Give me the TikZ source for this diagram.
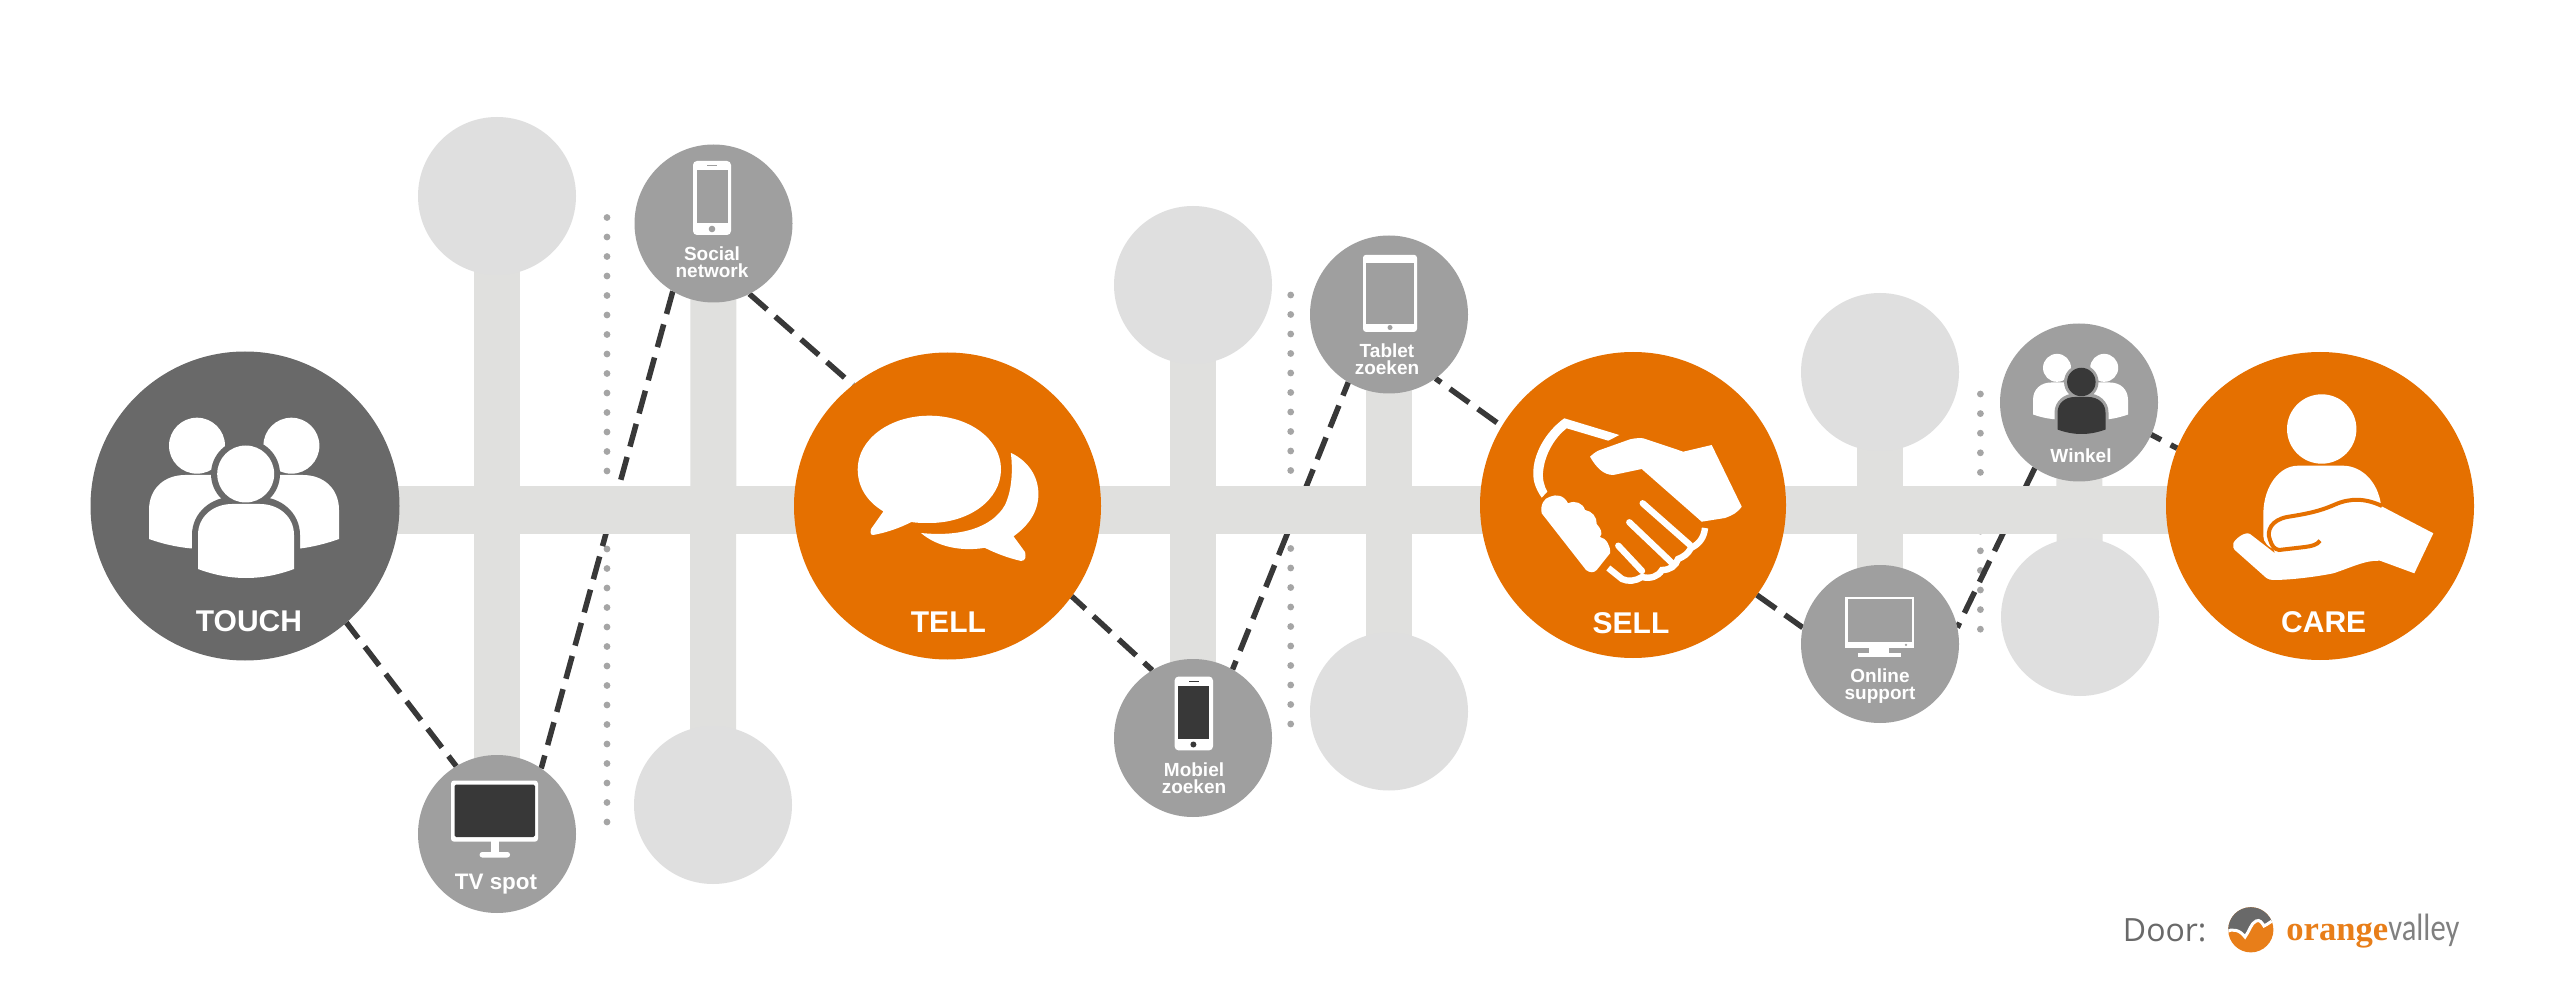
\documentclass[tikz,border=0pt]{standalone}
\usepackage{fontspec}
\setmainfont{Liberation Sans}
\newfontfamily\doorfont{Open Sans}
\newfontfamily\serifb{Liberation Serif}
\newfontfamily\valleyf{Carlito}
\definecolor{ov}{HTML}{E57000}
\definecolor{dk}{HTML}{696969}
\definecolor{md}{HTML}{9F9F9F}
\definecolor{lt}{HTML}{DFDFDF}
\definecolor{barc}{HTML}{E0E0DE}
\definecolor{dotc}{HTML}{A5A5A5}
\definecolor{ink}{HTML}{383838}
\pgfdeclarelayer{dotslayer}
\pgfdeclarelayer{lineslayer}
\pgfdeclarelayer{barslayer}
\pgfsetlayers{dotslayer,lineslayer,barslayer,main}
\tikzset{
  disc/.style={circle,inner sep=0pt,outer sep=0pt,draw=none},
  orangedisc/.style={disc,fill=ov,minimum size=154pt},
  greydisc/.style={disc,fill=md,minimum size=79pt},
  lightdisc/.style={disc,fill=lt,minimum size=79pt},
  hbar/.style={draw=barc,line width=24pt},
  vbar/.style={draw=barc,line width=23pt},
  dashline/.style={draw=ink,line width=2.75pt,dash pattern=on 11.8pt off 5.4pt},
  biglabel/.style={text=white,font=\fontsize{15}{17}\selectfont\bfseries,inner sep=0pt},
  smalllabel/.style={text=white,font=\fontsize{9.5}{8.3}\selectfont\bfseries,inner sep=0pt,align=center},
}
\newcommand{\peopleicon}[1]{%
  \fill[white] (149,539) -- (149,510) .. controls (149,488) and (165,475) .. (185,475) -- (225,475) -- (225,550) -- (192,548.5) .. controls (175,547) and (160,543) .. (149,539) -- cycle;
  \fill[white] (339,539) -- (339,510) .. controls (339,488) and (323,475) .. (303,475) -- (263,475) -- (263,550) -- (300,548.5) .. controls (313,547) and (328,543) .. (339,539) -- cycle;
  \fill[white] (197,445.7) circle[radius=28];
  \fill[white] (291.4,445.7) circle[radius=28];
  \fill[#1] (245.5,474) circle[radius=34.5];
  \fill[#1] (192,562) -- (192,535) .. controls (192,512) and (212,497) .. (232,497) -- (260,497) .. controls (280,497) and (300,512) .. (300,535) -- (300,562) -- cycle;
}
\begin{document}
\begin{tikzpicture}[x=.5pt,y=-.5pt]
\begin{pgfonlayer}{dotslayer}
\path[use as bounding box,fill=white] (0,0) rectangle (2560,989);
\foreach \k in {0,...,31} \fill[dotc] (607,217.5+19.5*\k) circle[radius=3.4];
\foreach \k in {0,...,22} \fill[dotc] (1290.7,295+19.5*\k) circle[radius=3.4];
\foreach \k in {0,...,12} \fill[dotc] (1980.4,394+19.6*\k) circle[radius=3.4];
\end{pgfonlayer}

% light stops
\node[lightdisc] (l1) at (497,196) {};
\node[lightdisc] (l2) at (713,805) {};
\node[lightdisc] (l3) at (1193,285) {};
\node[lightdisc] (l4) at (1389,711.5) {};
\node[lightdisc] (l5) at (1880,372) {};
\node[lightdisc] (l6) at (2080,617) {};
% grey channels
\node[greydisc] (tv) at (497,834) {};
\node[greydisc] (social) at (713.5,223.5) {};
\node[greydisc] (mobiel) at (1193,738) {};
\node[greydisc] (tablet) at (1389,314.5) {};
\node[greydisc] (online) at (1880,644) {};
\node[greydisc] (winkel) at (2079,402.5) {};
% stages
\node[disc,fill=dk,minimum size=154.5pt] (touch) at (245,506) {};
\node[orangedisc,minimum size=153.5pt] (tell) at (947.5,506) {};
\node[orangedisc,minimum size=153pt] (sell) at (1633,505) {};
\node[orangedisc] (care) at (2320,506) {};

\coordinate (barL) at (300,510);
\coordinate (barR) at (2300,510);
\begin{pgfonlayer}{barslayer}
\draw[hbar] (barL) -- (barR);
\draw[vbar] (l1.center) -- (tv.center);
\draw[vbar] (social.center) -- (l2.center);
\draw[vbar] (l3.center) -- (mobiel.center);
\draw[vbar] (tablet.center) -- (l4.center);
\draw[vbar] (l5.center) -- (online.center);
\draw[vbar] (winkel.center) -- (l6.center);
\end{pgfonlayer}
\begin{pgfonlayer}{lineslayer}
\draw[dashline,dash phase=2pt] (touch.-49) -- (tv.121);
\draw[dashline] (social.-121) -- (tv.56);
\draw[dashline] (social.-63) -- (tell.128.6);
\draw[dashline,dash phase=2.5pt] (tell.-36) -- (mobiel.121.7);
\draw[dashline,dash phase=4.6pt] (tablet.-121) -- (mobiel.60);
\draw[dashline,dash phase=8.3pt] (tablet.-54.6) -- (sell.149.6);
\draw[dashline] (sell.-36) -- (online.168.5);
\draw[dashline] (winkel.-124) -- (online.12);
\draw[dashline,dash phase=6.2pt] (winkel.-24.4) -- (care.158.5);
\end{pgfonlayer}

% TOUCH icon
\peopleicon{dk}
\fill[white] (245.7,474) circle[radius=28.5];
\fill[white] (198,569) -- (198,535) .. controls (198,516) and (214,504) .. (232,504) -- (260,504) .. controls (278,504) and (294,516) .. (294,535) -- (294,569) .. controls (262,581) and (230,581) .. (198,569) -- cycle;
% Winkel icon
\begin{scope}[shift={(1958.5,145)},scale=.5]
\peopleicon{md}
\fill[ink] (245.7,474) circle[radius=28.5];
\fill[ink] (198,569) -- (198,535) .. controls (198,516) and (214,504) .. (232,504) -- (260,504) .. controls (278,504) and (294,516) .. (294,535) -- (294,569) .. controls (262,581) and (230,581) .. (198,569) -- cycle;
\end{scope}

% TELL icon
\fill[white] (883.4,511.4) .. controls (866,501) and (857.7,486) .. (857.7,469.3) .. controls (857.7,439) and (890,415.7) .. (929.3,415.7) .. controls (969,415.7) and (1001,439) .. (1001,469.3) .. controls (1001,500) and (969,523) .. (929.3,523) .. controls (923,523) and (917,523) .. (911.3,522) .. controls (900,528) and (885,533) .. (873,535) .. controls (870,535) and (870,531) .. (871,529) -- cycle;
\fill[white] (1010.8,452.8) .. controls (1028,461) and (1038.4,476) .. (1038.4,494.2) .. controls (1038.4,512) and (1028,526) .. (1013.5,536.3) -- (1025,552) .. controls (1026,556) and (1026,561) .. (1021,561) .. controls (1008,558) and (995,553) .. (984.8,547.8) .. controls (960,552) and (936,546) .. (921,533) .. controls (960,537) and (992,528) .. (1005,505) .. controls (1012,490) and (1013,470) .. (1010.8,452.8) -- cycle;

% SELL icon
\fill[white] (1564.3,418.3) -- (1619.3,435) -- (1608.3,440.7) -- (1566.7,428.3) .. controls (1554,438) and (1545,455) .. (1543.3,470) .. controls (1542,478) and (1544,486) .. (1547.3,491.7) -- (1541.7,497.7) .. controls (1535,488) and (1533,480) .. (1533.3,473.3) .. controls (1533,455) and (1545,432) .. (1564.3,418.3) -- cycle;
\fill[white] (1541.7,513.3) .. controls (1540,505) and (1544,498) .. (1550,496.7) .. controls (1556,494) and (1564,495) .. (1568,503.3) .. controls (1575,500) and (1583,503) .. (1585,510) .. controls (1592,511) and (1597,517) .. (1596.7,524) .. controls (1601,529) and (1603,533) .. (1600,537) .. controls (1606,538) and (1611,546) .. (1610,553.3) -- (1596.7,570) .. controls (1594,573) and (1590,573) .. (1586,570) -- cycle;
\fill[white] (1590,456.7) .. controls (1594,453) and (1597,451) .. (1600,450) -- (1630,439.3) .. controls (1635,438) and (1640,438) .. (1643.3,438.3) -- (1683.3,451.7) -- (1711.7,445) -- (1741.7,506.7) .. controls (1737,513) and (1733,515) .. (1725,518) -- (1701.7,521.7) -- (1641.7,469) -- (1613.3,475) .. controls (1603,475) and (1596,467) .. (1590,456.7) -- cycle;
\draw[white,line width=3.2pt,line cap=round] (1642.7,503.3) -- (1690,545);
\draw[white,line width=3.2pt,line cap=round] (1629.3,522.3) -- (1672,563);
\draw[white,line width=3.2pt,line cap=round] (1618.3,545.7) -- (1642,571);
\draw[white,line width=3.2pt] (1705,528) .. controls (1704,538) and (1699,544) .. (1691,548) .. controls (1688,554) and (1683,557) .. (1678,559) .. controls (1676,566) and (1670,570) .. (1662,570) .. controls (1658,577) and (1650,579) .. (1642,577) .. controls (1636,581) and (1628,582) .. (1622,579) -- (1608.3,568);

% CARE icon
\fill[white] (2321.7,429) circle[radius=34.7];
\fill[white] (2263.3,536) -- (2263.3,513) .. controls (2264,485) and (2280,465.7) .. (2298,465.7) -- (2343.3,465.7) .. controls (2362,466) and (2378,482) .. (2381,505) -- (2330,530) -- (2277,550) .. controls (2268,548) and (2263.3,542) .. (2263.3,536) -- cycle;
\fill[white] (2233.3,543.3) .. controls (2235,539) and (2245,531) .. (2250,534) -- (2275,553.3) -- (2270,540) .. controls (2266,530) and (2272,520) .. (2287,517) .. controls (2305,514) and (2318,512) .. (2335,505) .. controls (2350,499) and (2365,499) .. (2381,506) -- (2433.3,533.3) -- (2414.3,573.3) -- (2380,560.7) .. controls (2365,560) and (2350,568) .. (2333.3,573.3) .. controls (2315,577) and (2290,580) .. (2273,580) .. controls (2268,580) and (2265,577) .. (2263,575) -- (2236.7,551.7) .. controls (2233,549) and (2232.5,546) .. (2233.3,543.3) -- cycle;
\draw[ov,line width=2pt] (2382,506) .. controls (2365,498) and (2350,498) .. (2335,504.5) .. controls (2318,512) and (2305,514) .. (2287,517) .. controls (2272,520) and (2266,530) .. (2270,540) .. controls (2272,546) and (2274,549) .. (2279,550) -- (2305,547) .. controls (2312,546) and (2317,545) .. (2320,540.7);

% TV icon
\fill[white,rounded corners=1.5pt] (451,780.5) rectangle (538,841.7);
\fill[ink,rounded corners=.8pt] (454.6,784.5) rectangle (535,837);
\fill[white] (491.4,841) rectangle (498.6,853);
\fill[white,rounded corners=1.3pt] (479.6,852) rectangle (510,857.5);

% Social phone
\fill[white,rounded corners=2pt] (693,161) rectangle (731,235);
\fill[md] (696.6,169.6) rectangle (728,223);
\fill[md] (712,229) circle[radius=3.3];
\fill[md] (707,165) rectangle (717,166.2);

% Mobiel phone
\fill[white,rounded corners=2pt] (1174.6,676.5) rectangle (1213,750.4);
\fill[ink] (1178,685.6) rectangle (1209,738.6);
\fill[ink] (1193.4,744.5) circle[radius=3];
\fill[ink] (1189,680.5) rectangle (1199,681.7);

% Tablet
\fill[white,rounded corners=1.5pt] (1363,254.8) rectangle (1417,331.9);
\fill[md] (1366,263.5) rectangle (1414.4,323.6);
\fill[md] (1390,327.5) circle[radius=2.5];

% Online monitor
\fill[white] (1844.7,596.7) rectangle (1914,648.3);
\fill[md] (1848,599) rectangle (1911.7,641.7);
\fill[md] (1906,644.9) circle[radius=1.3];
\fill[white] (1869,648) rectangle (1889,653.5);
\fill[white] (1858,653) rectangle (1900.5,656.7);

% labels
\node[biglabel] (lbTouch) at (249,621.5) {TOUCH};
\node[biglabel] (lbTell) at (948.4,622.4) {TELL};
\node[biglabel] (lbSell) at (1631,623) {SELL};
\node[biglabel] (lbCare) at (2323.7,621.7) {CARE};
\node[smalllabel,font=\fontsize{11.2}{13}\selectfont\bfseries] (lbTv) at (496,884) {TV spot};
\node[smalllabel] (lbSocial) at (712,262) {Social\\network};
\node[smalllabel] (lbTablet) at (1387,359) {Tablet\\zoeken};
\node[smalllabel] (lbMobiel) at (1194,778) {Mobiel\\zoeken};
\node[smalllabel] (lbOnline) at (1880,686) {Online\\support};
\node[smalllabel] (lbWinkel) at (2081,456) {Winkel};

% footer
\node[anchor=base west,inner sep=0pt,text=dk,font=\fontsize{16}{18}\selectfont\doorfont] (door) at (2122.5,941.7) {Door:};
\begin{scope}
\clip (2250.8,929.8) circle[radius=22.6];
\fill[ov!90!white] (2225,905) rectangle (2276,955);
\fill[dk] (2226,932) .. controls (2232,928) and (2240,930) .. (2245,937) .. controls (2249,932) and (2251,923) .. (2256,921) .. controls (2260,919) and (2262,923) .. (2264,926) .. controls (2268,924) and (2272,921) .. (2277,917) -- (2277,905) -- (2226,905) -- cycle;
\draw[white,line width=1.5pt] (2226,932) .. controls (2232,928) and (2240,930) .. (2245,937) .. controls (2249,932) and (2251,923) .. (2256,921) .. controls (2260,919) and (2262,923) .. (2264,926) .. controls (2268,924) and (2272,921) .. (2277,917);
\end{scope}
\node[anchor=base west,inner sep=0pt,text=ov!90!white,font=\fontsize{17.3}{19}\selectfont\serifb\bfseries] (lgOrange) at (2286,940) {orange};
\node[anchor=base west,inner sep=0pt,text=dk!85!white,font=\fontsize{17}{19}\selectfont\valleyf] (lgValley) at (2388,940) {\scalebox{.9}[1.12]{valley}};
\end{tikzpicture}
\end{document}
